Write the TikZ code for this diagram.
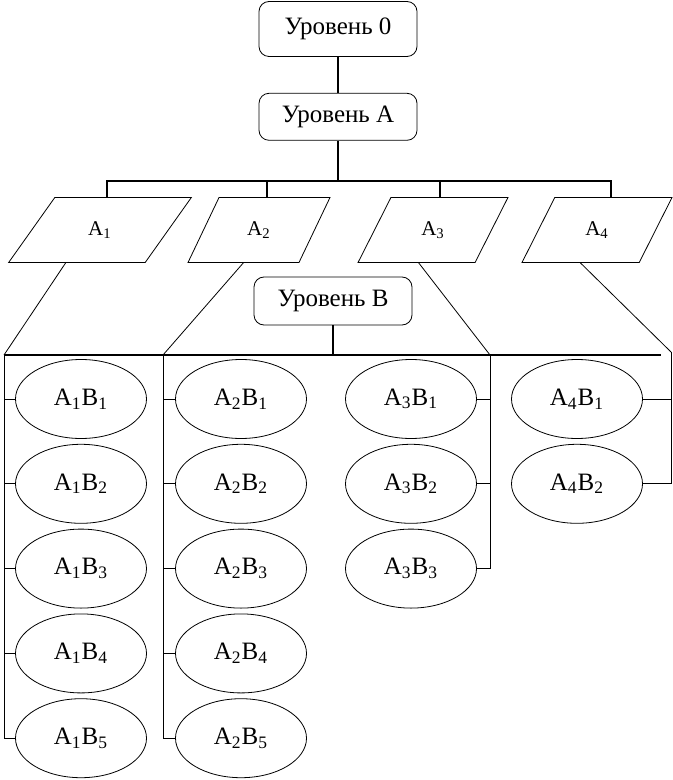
\documentclass[tikz,border=0pt]{standalone}
\usepackage{fontspec}
\setmainfont{Liberation Serif}
\usetikzlibrary{positioning, shapes.geometric, calc}
\tikzset{
  level/.style={draw, rounded corners=5pt, minimum width=79pt, inner sep=2pt, font=\fontsize{12.5}{15}\selectfont},
  factor/.style={draw, trapezium, trapezium stretches=true, trapezium left angle=62, trapezium right angle=118,
    minimum width=71pt, minimum height=32.5pt, inner sep=0pt, font=\fontsize{10.5}{12}\selectfont},
  pair/.style={draw, ellipse, minimum width=65.5pt, minimum height=39.5pt, inner sep=0pt, font=\fontsize{12.5}{15}\selectfont},
  bus/.style={line width=1pt},
  semithick
}

\begin{document}
\begin{tikzpicture}[x=0.5pt, y=-0.5pt]
    \useasboundingbox (0,0) rectangle (673,780);

    \node[level, minimum height=27.5pt] (l0) at (338,29) {Уровень 0};
    \node[level, minimum height=23.5pt, below = 18pt of l0] (la) {Уровень A};

    \node[factor, trapezium left angle=55, trapezium right angle=125, minimum width=91.5pt] (a1) at (100,230) {A\textsubscript{1}};
    \node[factor] (a2) at (259,230) {A\textsubscript{2}};
    \node[factor, minimum width=75pt] (a3) at (433,230) {A\textsubscript{3}};
    \node[factor, minimum width=75pt] (a4) at (597,230) {A\textsubscript{4}};

    \node[level, minimum height=24pt] (lb) at (333,301) {Уровень B};

    \node[pair] (a1b1) at (81,399) {A\textsubscript{1}B\textsubscript{1}};
    \node[pair, below = 2.5pt of a1b1] (a1b2) {A\textsubscript{1}B\textsubscript{2}};
    \node[pair, below = 2.5pt of a1b2] (a1b3) {A\textsubscript{1}B\textsubscript{3}};
    \node[pair, below = 2.5pt of a1b3] (a1b4) {A\textsubscript{1}B\textsubscript{4}};
    \node[pair, below = 2.5pt of a1b4] (a1b5) {A\textsubscript{1}B\textsubscript{5}};

    \node[pair] (a2b1) at (241,399) {A\textsubscript{2}B\textsubscript{1}};
    \node[pair, below = 2.5pt of a2b1] (a2b2) {A\textsubscript{2}B\textsubscript{2}};
    \node[pair, below = 2.5pt of a2b2] (a2b3) {A\textsubscript{2}B\textsubscript{3}};
    \node[pair, below = 2.5pt of a2b3] (a2b4) {A\textsubscript{2}B\textsubscript{4}};
    \node[pair, below = 2.5pt of a2b4] (a2b5) {A\textsubscript{2}B\textsubscript{5}};

    \node[pair] (a3b1) at (411,399) {A\textsubscript{3}B\textsubscript{1}};
    \node[pair, below = 2.5pt of a3b1] (a3b2) {A\textsubscript{3}B\textsubscript{2}};
    \node[pair, below = 2.5pt of a3b2] (a3b3) {A\textsubscript{3}B\textsubscript{3}};

    \node[pair] (a4b1) at (577,399) {A\textsubscript{4}B\textsubscript{1}};
    \node[pair, below = 2.5pt of a4b1] (a4b2) {A\textsubscript{4}B\textsubscript{2}};

    % bus points
    \coordinate (busa) at (338,181);
    \coordinate (busb) at (333,355);
    \coordinate (c1) at (4,355);
    \coordinate (c2) at (163,355);
    \coordinate (c3) at (490,355);
    \coordinate (c4) at (671,352);
    \coordinate (busend) at (661,355);

    \draw[line width=1.3pt] (l0) -- (la);
    \draw[line width=1.3pt] (la) -- (busa);
    \foreach \n/\f in {a1/0.38, a2/0.43, a3/0.42, a4/0.48}
      \draw[bus] ($(\n.top left corner)!\f!(\n.top right corner)$) |- (busa);

    \foreach \n/\f/\c in {a1/0.42/c1, a2/0.5/c2, a3/0.52/c3, a4/0.5/c4}
      \draw ($(\n.bottom left corner)!\f!(\n.bottom right corner)$) -- (\c);

    \draw[bus] (lb) -- (busb);
    \draw[bus] (c1) -- (busend);

    \foreach \i in {1,...,5} \draw (c1) |- (a1b\i);
    \foreach \i in {1,...,5} \draw (c2) |- (a2b\i);
    \foreach \i in {1,2,3} \draw (c3) |- (a3b\i);
    \foreach \i in {1,2} \draw (c4) |- (a4b\i);
\end{tikzpicture}
\end{document}
